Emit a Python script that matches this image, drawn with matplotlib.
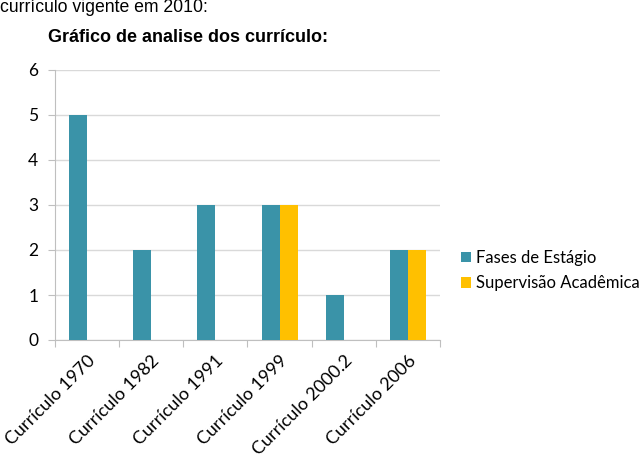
import numpy as np
import matplotlib.pyplot as plt
from matplotlib.ticker import FixedLocator

categorias = ["Currículo 1970", "Currículo 1982", "Currículo 1991",
              "Currículo 1999", "Currículo 2000.2", "Currículo 2006"]
fases_estagio = [5, 2, 3, 3, 1, 2]
supervisao = [0, 0, 0, 3, 0, 2]
series_nomes = ["Fases de Estágio", "Supervisão Acadêmica"]
cores = ["#3A93A8", "#FFC000"]

fig = plt.figure(figsize=(6.42, 4.73), dpi=100)
ax = fig.add_axes([55/642, 133/473, 385/642, 270/473])

x = np.arange(len(categorias))
w = 0.28
b1 = ax.bar(x - w/2, fases_estagio, w, color=cores[0], label=series_nomes[0], zorder=3)
b2 = ax.bar(x + w/2, supervisao, w, color=cores[1], label=series_nomes[1], zorder=3)

ax.set_xlim(-0.5, len(categorias) - 0.5)
ax.set_ylim(0, 6)
ax.set_yticks(range(7))
ax.yaxis.grid(True, color="#D9D9D9", linewidth=1, zorder=0)
ax.tick_params(axis="y", length=5, color="#BFBFBF", labelsize=12.5, pad=7)

# category boundaries get tick marks, labels centred
ax.xaxis.set_major_locator(FixedLocator(np.arange(-0.5, len(categorias), 1)))
ax.xaxis.set_minor_locator(FixedLocator(x))
ax.set_xticklabels([])
ax.set_xticklabels(categorias, minor=True, rotation=45, ha="right",
                   rotation_mode="anchor", fontsize=13, family="Lato")
ax.tick_params(axis="x", which="major", length=5, color="#BFBFBF")
ax.tick_params(axis="x", which="minor", length=0, pad=9)
for lab in ax.get_yticklabels():
    lab.set_family("Lato")

for s in ["top", "right"]:
    ax.spines[s].set_visible(False)
for s in ["left", "bottom"]:
    ax.spines[s].set_color("#BFBFBF")

leg = fig.legend(handles=[b1, b2], loc="upper left", bbox_to_anchor=(446/642, 1 - 235/473),
                 frameon=False, prop={"family": "Lato", "size": 12},
                 handlelength=0.6, handleheight=0.6, handletextpad=0.3, labelspacing=0.55)

fig.text(0.0, 1 - 8/473, "currículo vigente em 2010:", fontsize=12.7,
         family="Liberation Sans", va="center", ha="left")
fig.text(48/642, 1 - 38/473, "Gráfico de analise dos currículo:", fontsize=13,
         family="Liberation Sans", weight="bold", va="center", ha="left")

fig.savefig("out.png", dpi=100)
